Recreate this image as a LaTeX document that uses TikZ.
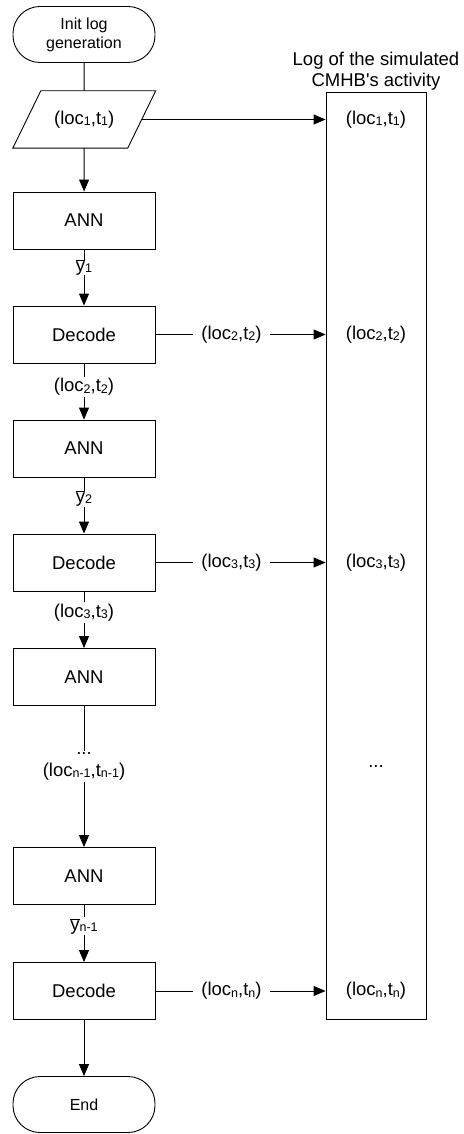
\documentclass[tikz,border=0pt]{standalone}
\usepackage{fontspec}
\setmainfont{Liberation Sans}
\usetikzlibrary{arrows.meta}
% small, slightly lowered index digits
\newcommand\lsub[1]{\raisebox{-1.2pt}{\fontsize{12.5}{12.5}\selectfont #1}}
\newcommand\ybar{$\overline{\mbox{y}}$}
\begin{document}
\begin{tikzpicture}[x=1pt,y=-1pt,
  txt/.style={font=\fontsize{18.5}{22}\selectfont},
  procbox/.style={txt,draw,line width=0.9pt,minimum width=142pt,minimum height=57pt,inner sep=0pt},
  termbox/.style={draw,line width=0.9pt,rounded corners=27pt,minimum width=142pt,minimum height=56pt,
    inner sep=0pt,align=center,font=\fontsize{16}{19}\selectfont},
  iotext/.style={txt,minimum width=114.5pt,minimum height=57pt,inner sep=0pt},
  conn/.style={line width=0.9pt},
  arr/.style={conn,-{Triangle[length=12pt,width=10pt]}},
  lab/.style={txt,fill=white,inner xsep=8pt,inner ysep=1.5pt,align=center}
]
\useasboundingbox (0,0) rectangle (463,1134);

% left column: the generation loop
\node[termbox] (init) at (84,34.5) {Init log\\generation};
\node[iotext] (para) at (84.25,119.5) {(loc\lsub1,t\lsub1)};
\draw[conn] ([xshift=14pt]para.north west) -- ([xshift=14pt]para.north east)
  -- ([xshift=-14pt]para.south east) -- ([xshift=-14pt]para.south west) -- cycle;
\node[procbox] (ann1) at (84,220.5) {ANN};
\node[procbox] (dec1) at (84,334.5) {Decode};
\node[procbox] (ann2) at (84,448.5) {ANN};
\node[procbox] (dec2) at (84,562.5) {Decode};
\node[procbox] (ann3) at (84,677) {ANN};
\node[procbox] (ann4) at (84,876) {ANN};
\node[procbox] (dec3) at (84,991) {Decode};
\node[termbox] (end) at (84,1104.5) {End};

% right column: the resulting log
\node[txt,align=center,font=\fontsize{18.5}{21}\selectfont] (title) at (376,71)
  {Log of the simulated\\CMHB\textquotesingle s activity};
\node[draw,line width=0.9pt,minimum width=100pt,minimum height=927pt,inner sep=0pt] (log) at (376,555.5) {};
\node[txt] (l1) at (376,119.5) {(loc\lsub1,t\lsub1)};
\node[txt] (l2) at (376,334.5) {(loc\lsub2,t\lsub2)};
\node[txt] (l3) at (376,562.5) {(loc\lsub3,t\lsub3)};
\node[txt] (ldots) at (376,767) {...};
\node[txt] (ln) at (376,991) {(loc\lsub{n},t\lsub{n})};

% flow
\draw[conn] (init) -- (para);
\draw[arr] (para) -- (ann1);
\draw[arr] (ann1) -- node[lab,pos=.32,inner ysep=0pt] {\ybar\lsub1} (dec1);
\draw[arr] (dec1) -- node[lab,pos=.42] {(loc\lsub2,t\lsub2)} (ann2);
\draw[arr] (ann2) -- node[lab,pos=.38,inner ysep=0pt] {\ybar\lsub2} (dec2);
\draw[arr] (dec2) -- node[lab,pos=.37] {(loc\lsub3,t\lsub3)} (ann3);
\draw[arr] (ann3) -- node[lab,pos=.43,font=\fontsize{18.5}{22}\selectfont] {...\\(loc\lsub{n-1},t\lsub{n-1})} (ann4);
\draw[arr] (ann4) -- node[lab,pos=.37,inner ysep=1.5pt] {\ybar\lsub{n-1}} (dec3);
\draw[arr] (dec3) -- (end);

% records written to the log
\draw[arr] (para.east) -- (log.west |- para.east);
\draw[arr] (dec1) -- node[lab,pos=.447] {(loc\lsub2,t\lsub2)} (log.west |- dec1);
\draw[arr] (dec2) -- node[lab,pos=.447] {(loc\lsub3,t\lsub3)} (log.west |- dec2);
\draw[arr] (dec3) -- node[lab,pos=.447] {(loc\lsub{n},t\lsub{n})} (log.west |- dec3);
\end{tikzpicture}
\end{document}
